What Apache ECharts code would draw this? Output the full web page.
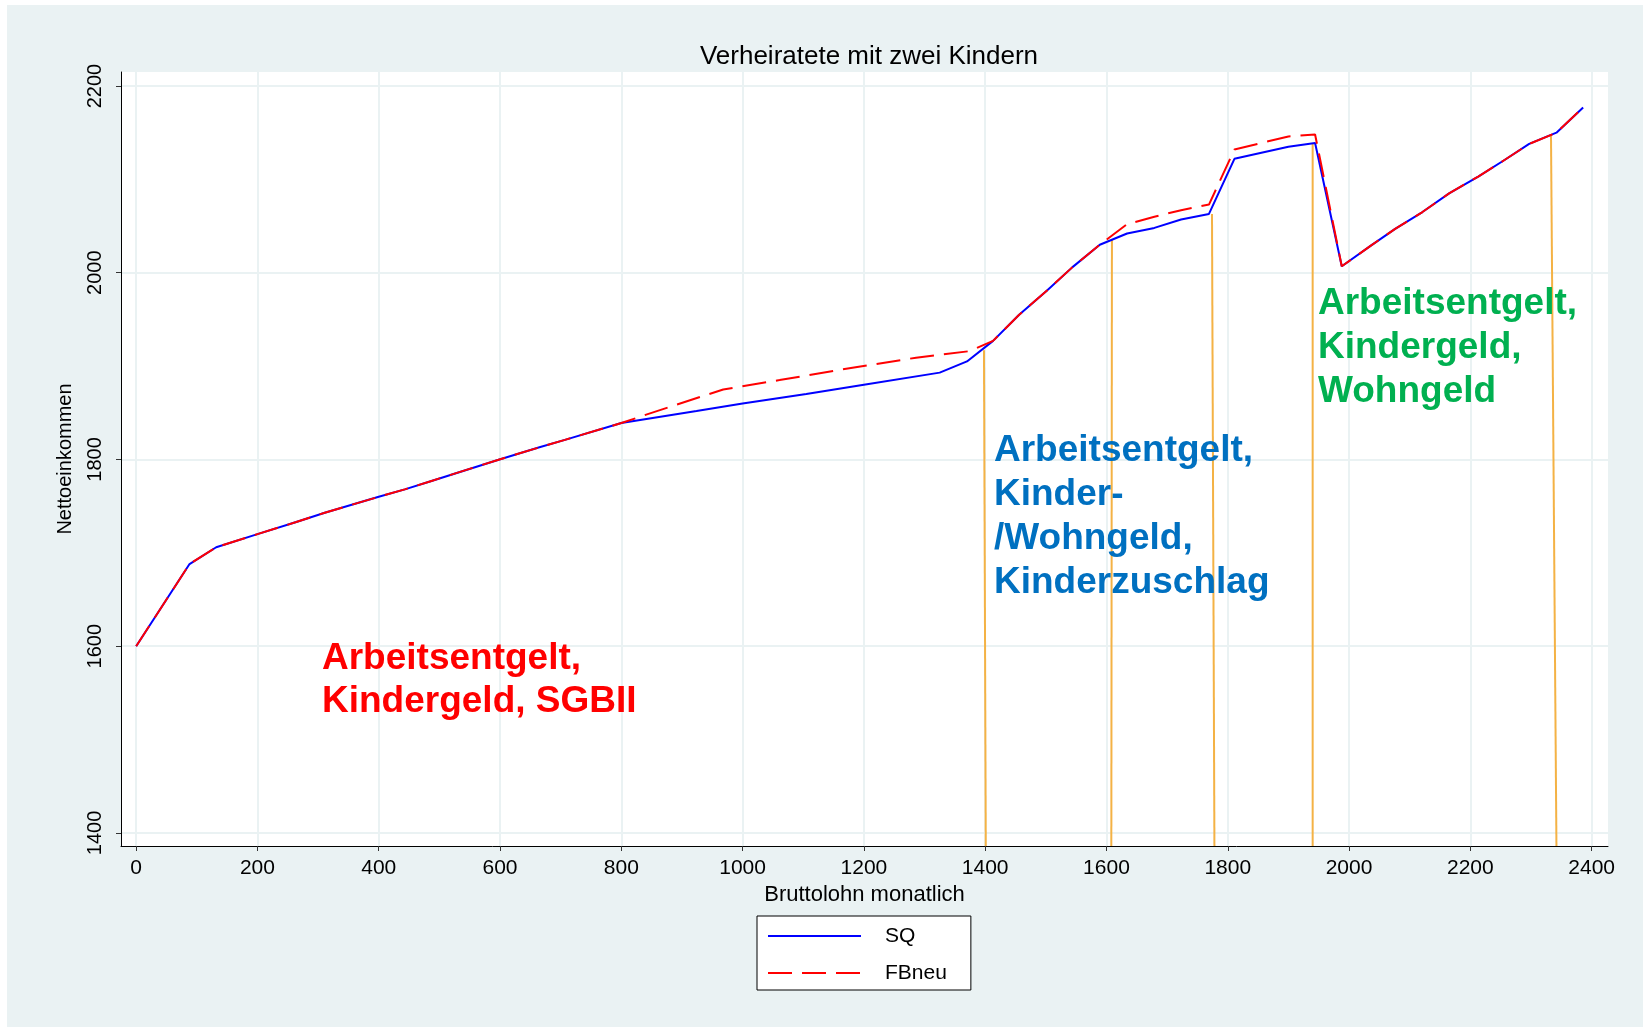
<!DOCTYPE html>
<html>
<head>
<meta charset="utf-8">
<title>Verheiratete mit zwei Kindern</title>
<script src="https://cdn.jsdelivr.net/npm/echarts@6/dist/echarts.min.js"></script>
<style>
  html, body { margin: 0; padding: 0; background: #fff; }
  #chart { width: 1643px; height: 1027px; }
</style>
</head>
<body>
<div id="chart"></div>
<script>
// Daten: Nettoeinkommen nach Bruttolohn (Status quo vs. neue Förderung)
const sqBrutto = [0, 88, 132, 200, 264, 311, 400, 443, 487, 599, 665, 707, 800, 924, 1000, 1105, 1200, 1325, 1370, 1413, 1456, 1502, 1544, 1589, 1634, 1679, 1723, 1769, 1811, 1900, 1944, 1988, 2036, 2076, 2121, 2165, 2213, 2257, 2297, 2342, 2386];
const sqNetto   = [1600, 1688, 1706, 1720, 1733, 1743, 1760, 1768, 1777, 1800, 1813, 1821, 1839, 1852, 1860, 1870, 1880, 1893, 1905, 1927, 1955, 1981, 2006, 2030, 2042, 2048, 2057, 2063, 2122, 2135, 2139, 2007, 2029, 2047, 2065, 2085, 2103, 2121, 2138, 2150, 2177];

const fbBrutto = [0, 88, 132, 200, 264, 311, 400, 443, 487, 599, 665, 707, 800, 841, 968, 1061, 1160, 1286, 1374, 1413, 1456, 1502, 1544, 1589, 1634, 1679, 1723, 1769, 1811, 1900, 1944, 1988, 2036, 2076, 2121, 2165, 2213, 2257, 2297, 2342, 2386];
const fbNetto   = [1600, 1688, 1706, 1720, 1733, 1743, 1760, 1768, 1777, 1800, 1813, 1821, 1839, 1848, 1875, 1885, 1896, 1909, 1916, 1927, 1955, 1981, 2006, 2030, 2052, 2060, 2067, 2073, 2132, 2146, 2148, 2007, 2029, 2047, 2065, 2085, 2103, 2121, 2138, 2150, 2177];

// orange Trennlinien (oben an der Kurve, unten an der x-Achse)
const markTopX    = [1398, 1609, 1774, 1940, 2333];
const markTopY    = [1917, 2035, 2063, 2139, 2147];
const markBottomX = [1401, 1608, 1778, 1940, 2342];

const xTicks = [0, 200, 400, 600, 800, 1000, 1200, 1400, 1600, 1800, 2000, 2200, 2400];
const yTicks = [1400, 1600, 1800, 2000, 2200];

const X_MIN = -25, X_MAX = 2427;
const Y_MIN = 1386, Y_MAX = 2215;

const FONT = 'Liberation Sans, Arial, sans-serif';
const BG = '#EAF2F3';

const zipXY = (xs, ys) => xs.map((x, i) => [x, ys[i]]);

const markSeries = markTopX.map((x, i) => ({
  name: 'mark' + i,
  type: 'line',
  data: [[x, markTopY[i]], [markBottomX[i], Y_MIN]],
  symbol: 'none',
  lineStyle: { color: '#F4B245', width: 2 },
  z: 1,
  silent: true,
  animation: false
}));

const chart = echarts.init(document.getElementById('chart'));

chart.setOption({
  animation: false,
  backgroundColor: BG,
  textStyle: { fontFamily: FONT },
  title: {
    text: 'Verheiratete mit zwei Kindern',
    left: 864,
    top: 39,
    textAlign: 'center',
    textStyle: { fontSize: 26, fontWeight: 'normal', color: '#000', fontFamily: FONT }
  },
  grid: {
    left: 121, top: 72, right: 35, bottom: 181,
    show: true, backgroundColor: '#fff', borderWidth: 0
  },
  legend: {
    data: ['SQ', 'FBneu'],
    orient: 'vertical',
    left: 757, top: 916,
    itemWidth: 93, itemHeight: 14, itemGap: 15,
    padding: [9, 24, 6, 10],
    backgroundColor: '#fff',
    borderColor: '#000', borderWidth: 1, borderRadius: 0,
    itemStyle: { color: 'rgba(0,0,0,0)', borderColor: 'rgba(0,0,0,0)', borderWidth: 0, opacity: 0 },
    textStyle: { fontSize: 21, color: '#000', lineHeight: 22, padding: [0, 0, 0, 19], fontFamily: FONT }
  },
  xAxis: {
    type: 'value', min: X_MIN, max: X_MAX,
    name: 'Bruttolohn monatlich', nameLocation: 'middle', nameGap: 37,
    nameTextStyle: { fontSize: 22, color: '#000', fontFamily: FONT },
    axisLine: { show: true, onZero: false, lineStyle: { color: '#000', width: 1 } },
    axisTick: { show: true, customValues: xTicks, length: 5, lineStyle: { color: '#333' } },
    axisLabel: { customValues: xTicks, formatter: v => String(v), fontSize: 21, color: '#000', margin: 12, fontFamily: FONT },
    splitLine: { show: true, lineStyle: { color: BG, width: 2 } }
  },
  yAxis: {
    type: 'value', min: Y_MIN, max: Y_MAX,
    name: 'Nettoeinkommen', nameLocation: 'middle', nameGap: 46,
    nameTextStyle: { fontSize: 20, color: '#000', fontFamily: FONT },
    axisLine: { show: true, onZero: false, lineStyle: { color: '#000', width: 1 } },
    axisTick: { show: true, customValues: yTicks, length: 5, lineStyle: { color: '#333' } },
    axisLabel: { customValues: yTicks, formatter: v => String(v), rotate: 90, fontSize: 20, color: '#000', margin: 16, fontFamily: FONT },
    splitLine: { show: true, lineStyle: { color: BG, width: 2 } }
  },
  graphic: [
    { type: 'rect', left: 0, top: 0, shape: { width: 1643, height: 5 }, style: { fill: '#fff' }, silent: true },
    { type: 'rect', left: 0, top: 0, shape: { width: 7, height: 1027 }, style: { fill: '#fff' }, silent: true },
    {
      type: 'text', left: 322, top: 637, z: 10,
      style: { text: 'Arbeitsentgelt,\nKindergeld, SGBII', fill: '#FF0000', font: 'bold 37px ' + FONT, lineHeight: 43 }
    },
    {
      type: 'text', left: 994, top: 429, z: 10,
      style: { text: 'Arbeitsentgelt,\nKinder-\n/Wohngeld,\nKinderzuschlag', fill: '#0070C0', font: 'bold 37px ' + FONT, lineHeight: 44 }
    },
    {
      type: 'text', left: 1318, top: 282, z: 10,
      style: { text: 'Arbeitsentgelt,\nKindergeld,\nWohngeld', fill: '#00B050', font: 'bold 37px ' + FONT, lineHeight: 44 }
    }
  ],
  series: [
    ...markSeries,
    {
      name: 'SQ', type: 'line', data: zipXY(sqBrutto, sqNetto),
      symbol: 'none', z: 3,
      lineStyle: { color: '#0000FF', width: 2 },
      itemStyle: { color: '#0000FF' }
    },
    {
      name: 'FBneu', type: 'line', data: zipXY(fbBrutto, fbNetto),
      symbol: 'none', z: 4,
      lineStyle: { color: '#FF0000', width: 2, type: [24, 10] },
      itemStyle: { color: '#FF0000' }
    }
  ]
});

window.addEventListener('resize', () => chart.resize());
</script>
</body>
</html>
